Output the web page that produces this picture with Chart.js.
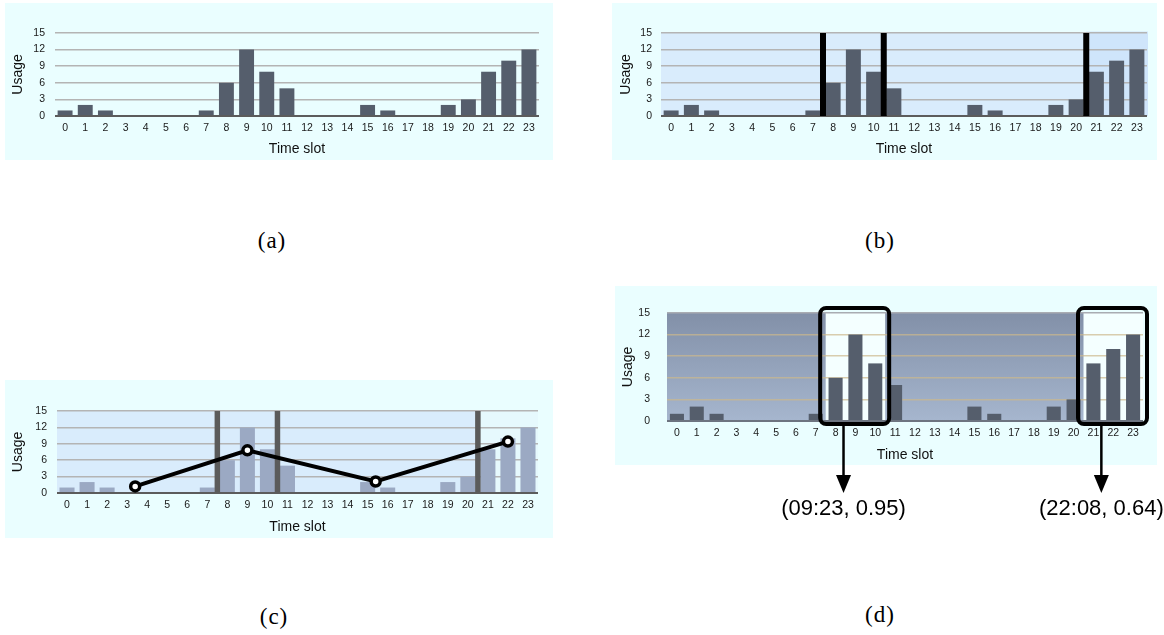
<!DOCTYPE html>
<html>
<head>
<meta charset="utf-8">
<script src="https://cdn.jsdelivr.net/npm/chart.js@4.4.1/dist/chart.umd.min.js"></script>
<style>
  html, body { margin: 0; padding: 0; background: #ffffff; }
  body { width: 1164px; height: 635px; position: relative; overflow: hidden; }
  .panel { position: absolute; background: #eafeff; }
  canvas { position: absolute; }
  .cap {
    position: absolute; width: 80px; text-align: center;
    font-family: "Liberation Serif", "Times New Roman", serif;
    font-size: 23px; line-height: 24px; color: #000; letter-spacing: 1px;
  }
</style>
</head>
<body>
<div class="panel" style="left:5px;top:3px;width:548px;height:157px"></div>
<div class="panel" style="left:612px;top:3px;width:545px;height:157px"></div>
<div class="panel" style="left:5px;top:380px;width:548px;height:158px"></div>
<div class="panel" style="left:615px;top:286px;width:542px;height:179px"></div>

<canvas id="chartA" width="548" height="157" style="left:5px;top:3px"></canvas>
<canvas id="chartB" width="545" height="157" style="left:612px;top:3px"></canvas>
<canvas id="chartC" width="548" height="158" style="left:5px;top:380px"></canvas>
<canvas id="chartD" width="549" height="250" style="left:615px;top:286px"></canvas>

<div class="cap" style="left:232px;top:229px">(a)</div>
<div class="cap" style="left:840px;top:229px">(b)</div>
<div class="cap" style="left:234px;top:605px">(c)</div>
<div class="cap" style="left:840px;top:603px">(d)</div>

<script>
// Hourly usage counts, one bar per time slot
const SLOT_LABELS = ['0','1','2','3','4','5','6','7','8','9','10','11',
                     '12','13','14','15','16','17','18','19','20','21','22','23'];
const USAGE = [1, 2, 1, 0, 0, 0, 0, 1, 6, 12, 8, 5, 0, 0, 0, 2, 1, 0, 0, 2, 3, 8, 10, 12];
const USAGE_TICKS = [0, 3, 6, 9, 12, 15];

// Segment boundaries between time slots
const SPLIT_POINTS = [7.5, 10.5, 20.5];

// Fitted trend through the segments (slot position, usage)
const TREND_X = [3.4, 9.0, 15.4, 22.0];
const TREND_Y = [1.2, 7.8, 2.1, 9.4];

// Detected peak windows and their (time, score) results
const PEAK_START = [7.5, 20.5];
const PEAK_END = [10.5, 23.5];
const PEAK_LABELS = ['(09:23, 0.95)', '(22:08, 0.64)'];

Chart.defaults.font.family = '"Liberation Sans", Arial, Helvetica, sans-serif';
Chart.defaults.animation = false;
Chart.defaults.responsive = false;
Chart.defaults.devicePixelRatio = 1;

function makeScales(o) {
  return {
    x: {
      type: 'category',
      offset: true,
      grid: { display: false, drawTicks: false },
      border: { display: false },
      afterFit: s => { s.height = o.xHeight; },
      ticks: { padding: o.xTickPad, font: { size: 10.5 }, color: '#1a1a1a', maxRotation: 0, autoSkip: false },
      title: { display: true, text: 'Time slot', font: { size: 14 }, color: '#111', padding: { top: 0, bottom: o.xTitlePad } }
    },
    // hidden continuous axis spanning the same slots, for marks placed between slots
    xl: { type: 'linear', min: -0.5, max: 23.5, offset: false, display: false, grid: { offset: false } },
    y: {
      min: 0, max: 15,
      afterBuildTicks: s => { s.ticks = USAGE_TICKS.map(v => ({ value: v })); },
      afterFit: s => { s.width = o.yWidth; },
      border: { display: false },
      grid: {
        drawTicks: false,
        color: c => c.tick.value === 0 ? o.zeroColor : (c.tick.value === 15 ? o.topColor : o.gridColor),
        lineWidth: c => c.tick.value === 0 ? 2 : 1.5
      },
      ticks: { padding: o.yTickPad, font: { size: 10.5 }, color: '#1a1a1a' },
      title: { display: true, text: 'Usage', font: { size: 14 }, color: '#111', padding: { top: o.yTitlePad, bottom: 0 } }
    }
  };
}

function barSet(color, pct) {
  return {
    type: 'bar', xAxisID: 'x', yAxisID: 'y', data: USAGE,
    backgroundColor: color, barPercentage: pct, categoryPercentage: 1, grouped: false, order: 2
  };
}

function splitSets(color, width) {
  return SPLIT_POINTS.map(p => ({
    type: 'line', xAxisID: 'xl', yAxisID: 'y',
    data: [{ x: p, y: 0 }, { x: p, y: 15 }],
    borderColor: color, borderWidth: width, pointRadius: 0, order: 1
  }));
}

function buildChart(id, o, datasets, plugins) {
  return new Chart(document.getElementById(id), {
    type: 'bar',
    data: { labels: SLOT_LABELS, datasets },
    options: {
      layout: { padding: { left: 0, right: o.padRight, top: o.padTop, bottom: o.padBottom || 0 } },
      scales: makeScales(o),
      plugins: { legend: { display: false }, tooltip: { enabled: false } }
    },
    plugins: plugins || []
  });
}

// Plot-area shading drawn underneath the grid
function shading(draw) {
  return {
    id: 'shading',
    beforeDraw(chart) {
      const ctx = chart.ctx;
      ctx.save();
      draw(ctx, chart, chart.chartArea, chart.scales.xl, chart.scales.y);
      ctx.restore();
    }
  };
}

const base = { xHeight: 44, xTickPad: 6, xTitlePad: 2, zeroColor: '#5c5c5c', topColor: '#b4b4b4', gridColor: '#b4b4b4' };

// (a) plain usage histogram
buildChart('chartA', Object.assign({}, base, { yWidth: 50, padRight: 14, padTop: 30, yTickPad: 10, yTitlePad: 4.6 }),
  [barSet('#555e6c', 0.74)]);

// (b) histogram split into segments
buildChart('chartB', Object.assign({}, base, { yWidth: 49, padRight: 10, padTop: 30, yTickPad: 9, yTitlePad: 5.6 }),
  [...splitSets('#000000', 6), barSet('#555e6c', 0.74)],
  [shading((ctx, chart, a, xs, ys) => {
    const t = ys.getPixelForValue(15), b = ys.getPixelForValue(0);
    ctx.fillStyle = '#d9ecfc';
    ctx.fillRect(a.left, t, a.right - a.left, b - t);
    const h = xs.getPixelForValue(20.5);
    ctx.fillStyle = '#cfe5fb';
    ctx.fillRect(h, t - 1.5, a.right + 1 - h, b - t + 1.5);
  })]);

// (c) segments with the fitted trend
buildChart('chartC', Object.assign({}, base, { xHeight: 45, yWidth: 52, padRight: 15, padTop: 31, yTickPad: 10, yTitlePad: 4.6 }),
  [{
    type: 'line', xAxisID: 'xl', yAxisID: 'y',
    data: TREND_X.map((x, i) => ({ x, y: TREND_Y[i] })),
    borderColor: '#000', borderWidth: 4, tension: 0,
    pointRadius: 4.5, pointBorderWidth: 3.5, pointBackgroundColor: '#ffffff', pointBorderColor: '#000',
    order: 0, clip: false
  }, ...splitSets('#5b5b5b', 5.5), barSet('#9ba9c3', 0.75)],
  [shading((ctx, chart, a, xs, ys) => {
    const t = ys.getPixelForValue(15), b = ys.getPixelForValue(0);
    const h = xs.getPixelForValue(20.5);
    ctx.fillStyle = '#d9ecfc';
    ctx.fillRect(a.left, t, h - a.left, b - t);
    ctx.fillStyle = '#e6f9fd';
    ctx.fillRect(h, t, a.right - h, b - t);
  })]);

// (d) detected peak windows with their results
const peakMarks = {
  id: 'peakMarks',
  afterDraw(chart) {
    const ctx = chart.ctx, xs = chart.scales.xl, ys = chart.scales.y;
    ctx.save();
    ctx.strokeStyle = '#000';
    ctx.fillStyle = '#000';
    PEAK_START.forEach((s, i) => {
      const l = xs.getPixelForValue(s) - 5.5, r = xs.getPixelForValue(PEAK_END[i]) + 4;
      const t = ys.getPixelForValue(15) - 5, b = ys.getPixelForValue(0) + 3;
      ctx.lineWidth = 4;
      ctx.beginPath();
      if (ctx.roundRect) ctx.roundRect(l, t, r - l, b - t, 6); else ctx.rect(l, t, r - l, b - t);
      ctx.stroke();
      const ax = xs.getPixelForValue(s + 0.9);
      const tip = b + 69;
      ctx.lineWidth = 2.5;
      ctx.beginPath();
      ctx.moveTo(ax, b + 2);
      ctx.lineTo(ax, tip - 16);
      ctx.stroke();
      ctx.beginPath();
      ctx.moveTo(ax - 7.5, tip - 18);
      ctx.lineTo(ax + 7.5, tip - 18);
      ctx.lineTo(ax, tip);
      ctx.closePath();
      ctx.fill();
      ctx.font = '22px "Liberation Sans", Arial, sans-serif';
      ctx.textAlign = 'center';
      ctx.textBaseline = 'middle';
      ctx.fillText(PEAK_LABELS[i], ax, tip + 16);
    });
    ctx.restore();
  }
};

buildChart('chartD', Object.assign({}, base, {
    yWidth: 52, padRight: 21, padTop: 27, padBottom: 71, yTickPad: 17, yTitlePad: 4.6, xTitlePad: 1,
    zeroColor: '#6d7480', topColor: '#a9acb2', gridColor: 'rgba(204,184,140,0.7)'
  }),
  [barSet('#555e6c', 0.71)],
  [shading((ctx, chart, a, xs, ys) => {
    const t = ys.getPixelForValue(15), b = ys.getPixelForValue(0);
    const g = ctx.createLinearGradient(0, t, 0, b);
    g.addColorStop(0, '#8290a8');
    g.addColorStop(1, '#a6b6ce');
    ctx.fillStyle = g;
    ctx.fillRect(a.left, t, a.right - a.left, b - t);
    ctx.fillStyle = '#f4ffff';
    PEAK_START.forEach((s, i) => {
      const l = xs.getPixelForValue(s), r = xs.getPixelForValue(PEAK_END[i]);
      ctx.fillRect(l, t, r - l, b - t);
    });
  }), peakMarks]);
</script>
</body>
</html>
